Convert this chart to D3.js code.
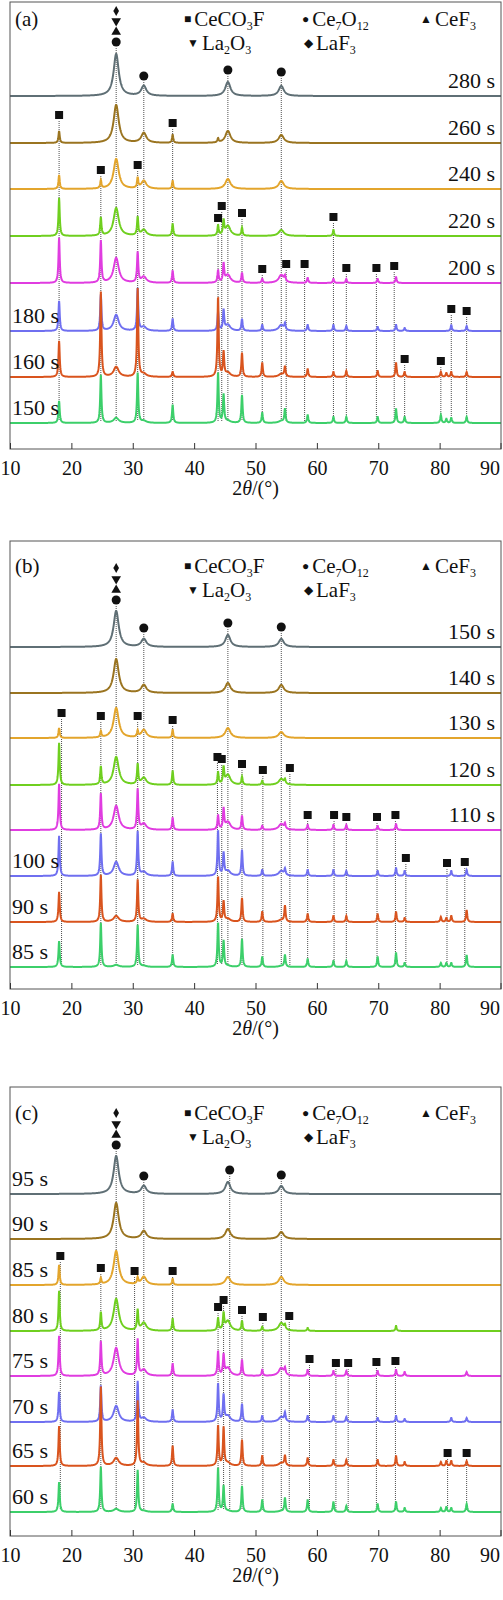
<!DOCTYPE html>
<html><head><meta charset="utf-8">
<script src="https://cdn.jsdelivr.net/npm/d3@7"></script>
<style>body{margin:0;background:#fff}svg text{font-family:"Liberation Serif","Times New Roman",serif;fill:#111}</style>
</head><body><svg id="c" width="503" height="1600"></svg>
<script>
// ---------- data ----------
const xTicks = [10,20,30,40,50,60,70,80,90];
const sharpPos = [18.0,24.8,30.8,36.5,43.9,44.8,47.8,51.1,54.8,58.5,62.7,64.8,69.9,72.9,74.3,80.2,81.1,81.9,84.4];
const oxidePos = [27.3,31.8,45.5,54.2];
const colors = ["#5f6f75","#9a7420","#e3a52c","#6fcf1f","#e03ce0","#6f6ff0","#d9541e","#3ccf6a"];

const labelsA = ["280 s","260 s","240 s","220 s","200 s","180 s","160 s","150 s"];
const labelsB = ["150 s","140 s","130 s","120 s","110 s","100 s","90 s","85 s"];
const labelsC = ["95 s","90 s","85 s","80 s","75 s","70 s","65 s","60 s"];
const labelSideA = ["r","r","r","r","r","l","l","l"];
const labelSideB = ["r","r","r","r","r","l","l","l"];
const labelSideC = ["l","l","l","l","l","l","l","l"];
const baseA = [353,306,260,213,166,118,72,26];
const baseB = [342,296,251,204,159,113,67,22];
const baseC = [342,297,251,205,160,114,70,24];

const oxideA = [[42,10,14,10],[38,10,12,8],[30,8,10,8],[28,6,10,6],[25,6,8,8],[16,4,6,6],[10,3,4,3],[5,2,2,2]];
const sharpA = [
 [0,0,0,0,0,0,0,0,0,0,0,0,0,0,0,0,0,0,0],
 [12,0,0,8,4,0,0,0,0,0,0,0,0,0,0,0,0,0,0],
 [14,8,10,8,0,0,0,0,0,0,0,0,0,0,0,0,0,0,0],
 [38,18,18,12,10,14,8,0,0,0,6,0,0,0,0,0,0,0,0],
 [45,42,30,12,12,18,10,4,5,5,4,4,4,6,0,0,0,0,0],
 [30,36,42,12,18,20,12,6,6,6,6,5,4,6,3,0,0,6,5],
 [36,85,88,5,80,24,24,14,10,8,5,6,6,14,5,5,4,5,5],
 [22,48,50,18,50,28,28,10,14,8,6,6,6,14,6,8,4,5,6]];
const oxideB = [[36,8,12,8],[34,8,10,8],[30,8,10,6],[28,7,10,6],[24,6,8,6],[14,4,5,5],[6,3,3,2],[2,1,1,1]];
const sharpB = [
 [0,0,0,0,0,0,0,0,0,0,0,0,0,0,0,0,0,0,0],
 [0,0,0,0,0,0,0,0,0,0,0,0,0,0,0,0,0,0,0],
 [10,6,6,8,0,0,0,0,0,0,0,0,0,0,0,0,0,0,0],
 [42,18,20,14,12,16,8,4,4,0,0,0,0,0,0,0,0,0,0],
 [46,36,40,12,14,20,14,4,5,5,5,5,4,6,0,0,0,0,0],
 [40,42,44,14,45,22,26,6,6,6,6,5,5,8,5,0,0,5,6],
 [30,47,42,8,45,20,24,10,16,8,6,6,8,10,4,5,4,6,12],
 [26,44,42,12,44,26,28,10,12,8,6,6,10,14,4,4,4,4,12]];
const oxideC = [[38,8,12,8],[36,8,10,7],[34,8,8,8],[32,8,10,8],[28,6,8,8],[16,4,6,5],[8,3,3,3],[3,1,1,1]];
const sharpC = [
 [0,0,0,0,0,0,0,0,0,0,0,0,0,0,0,0,0,0,0],
 [0,0,0,0,0,0,0,0,0,0,0,0,0,0,0,0,0,0,0],
 [20,6,6,6,0,0,0,0,0,0,0,0,0,0,0,0,0,0,0],
 [40,18,20,12,12,16,10,4,4,3,0,0,0,5,0,0,0,0,0],
 [40,34,36,12,24,20,16,6,6,6,5,5,5,6,4,0,0,0,4],
 [30,36,40,12,38,26,18,6,8,6,6,5,4,6,3,0,0,4,4],
 [40,79,65,20,40,38,26,10,10,8,6,6,6,10,4,4,5,5,5],
 [30,45,42,8,44,26,26,12,14,12,10,6,8,10,4,4,5,4,8]];

const legend = [["■","CeCO","3","F"],["●","Ce","7","O","12"],["▲","CeF","3"],["▼","La","2","O","3"],["◆","LaF","3"]];

const markA = [[27.3,438,"d"],[27.3,428,"v"],[27.3,417,"^"],[27.3,407,"o"],[31.8,373,"o"],[45.5,379,"o"],[54.2,377,"o"],
 [18.0,334,"s"],[36.5,326,"s"],[24.8,279,"s"],[30.8,284,"s"],[43.9,231,"s"],[44.5,243,"s"],[47.8,236,"s"],[62.7,232,"s"],
 [51.1,180,"s"],[55.0,185,"s"],[58.0,185,"s"],[64.8,181,"s"],[69.7,181,"s"],[72.6,183,"s"],[81.9,140,"s"],[84.4,138,"s"],[74.3,90,"s"],[80.2,88,"s"]];
const markB = [[27.3,421,"d"],[27.3,410,"v"],[27.3,399,"^"],[27.3,389,"o"],[31.8,361,"o"],[45.5,366,"o"],[54.2,362,"o"],
 [18.4,276,"s"],[24.8,273,"s"],[30.8,273,"s"],[36.5,269,"s"],[43.8,232,"s"],[44.5,230,"s"],[47.8,225,"s"],[51.2,219,"s"],[55.6,221,"s"],
 [58.5,174,"s"],[62.8,174,"s"],[64.8,172,"s"],[69.8,172,"s"],[72.8,174,"s"],[74.5,131,"s"],[81.2,126,"s"],[84.1,127,"s"]];
const markC = [[27.3,423,"d"],[27.3,412,"v"],[27.3,401,"^"],[27.3,391,"o"],[31.8,360,"o"],[45.8,366,"o"],[54.2,361,"o"],
 [18.2,280,"s"],[24.8,268,"s"],[30.3,265,"s"],[36.5,265,"s"],[43.9,229,"s"],[44.8,236,"s"],[47.8,226,"s"],[51.2,219,"s"],[55.5,220,"s"],
 [58.8,177,"s"],[63.1,173,"s"],[65.1,173,"s"],[69.7,174,"s"],[72.8,175,"s"],[81.3,83,"s"],[84.4,83,"s"]];

const panels = [
 {tag:"(a)",top:2,bottom:449,labels:labelsA,side:labelSideA,base:baseA,ox:oxideA,sh:sharpA,marks:markA,legY:24},
 {tag:"(b)",top:541,bottom:989,labels:labelsB,side:labelSideB,base:baseB,ox:oxideB,sh:sharpB,marks:markB,legY:32},
 {tag:"(c)",top:1087,bottom:1536,labels:labelsC,side:labelSideC,base:baseC,ox:oxideC,sh:sharpC,marks:markC,legY:33}];

// ---------- draw ----------
const svg = d3.select("#c");
const L = 10, R = 501;
const x = d3.scaleLinear().domain([10,90]).range([L,R]);
const grid = d3.range(10,90.001,0.04);
const sym = {s:d3.symbolSquare,o:d3.symbolCircle,"^":d3.symbolTriangle,v:d3.symbolTriangle,d:d3.symbolDiamond};
const symSize = {s:64,o:64,"^":40,v:40,d:28};

panels.forEach(p=>{
  const y = d3.scaleLinear().domain([0,p.bottom-p.top]).range([p.bottom,p.top]);
  const g = svg.append("g");
  const clipId = "clip"+p.tag.replace(/\W/g,"");
  svg.append("clipPath").attr("id",clipId).append("rect").attr("x",L).attr("y",p.top).attr("width",R-L).attr("height",p.bottom-p.top);
  const lowest = p.base[p.base.length-1];
  p.marks.filter(m=>m[2]==="s"||m[2]==="o").forEach(m=>{
    g.append("line").attr("x1",x(m[0])).attr("x2",x(m[0])).attr("y1",y(m[1]-6)).attr("y2",y(lowest+2))
     .attr("stroke","#222").attr("stroke-width",0.8).attr("stroke-dasharray","1,1");
  });
  const line = d3.line().x(d=>x(d[0])).y(d=>y(d[1]));
  const cg = g.append("g").attr("clip-path",`url(#${clipId})`);
  p.base.forEach((b,i)=>{
    const pts = grid.map(t=>{
      let v=b;
      oxidePos.forEach((c,k)=>{const w=0.5; v+=p.ox[i][k]/(1+((t-c)/w)**2);});
      sharpPos.forEach((c,k)=>{const w=0.12; v+=p.sh[i][k]/(1+((t-c)/w)**2);});
      return [t,v];
    });
    cg.append("path").attr("d",line(pts)).attr("fill","none").attr("stroke",colors[i]).attr("stroke-width",2);
  });
  p.marks.forEach(m=>{
    g.append("path").attr("d",d3.symbol().type(sym[m[2]]).size(symSize[m[2]])())
     .attr("transform",`translate(${x(m[0])},${y(m[1])})${m[2]==="v"?" rotate(180)":""}`).attr("fill","#111");
  });
  p.labels.forEach((t,i)=>{
    const right = p.side[i]==="r";
    g.append("text").attr("x",right?495:12).attr("y",y(p.base[i]+8)).attr("text-anchor",right?"end":"start")
     .attr("font-size",22).text(t);
  });
  g.append("rect").attr("x",L).attr("y",p.top).attr("width",R-L).attr("height",p.bottom-p.top)
   .attr("fill","none").attr("stroke","#555").attr("stroke-width",1);
  const ax = g.append("g").attr("transform",`translate(0,${p.bottom})`)
    .call(d3.axisBottom(x).tickValues(xTicks).tickSize(-6).tickPadding(12).tickFormat(d3.format("d")));
  ax.select(".domain").remove();
  ax.selectAll("line").attr("stroke","#333");
  ax.selectAll("text").attr("font-size",20).attr("font-family","Liberation Serif").attr("fill","#111");
  ax.selectAll("text").filter(d=>d===90).attr("text-anchor","end").attr("dx",11);
  ax.selectAll("text").filter(d=>d===10).attr("text-anchor","start").attr("dx",-10);
  ax.selectAll(".tick").filter(d=>d===90).attr("transform",`translate(${R-12},0)`).select("line").attr("transform","translate(12,0)");
  const tt = g.append("text").attr("x",(L+R)/2).attr("y",p.bottom+46).attr("text-anchor","middle").attr("font-size",20);
  tt.append("tspan").text("2");
  tt.append("tspan").attr("font-style","italic").text("θ");
  tt.append("tspan").text("/(°)");
  g.append("text").attr("x",15).attr("y",p.top+p.legY).attr("font-size",21).text(p.tag);
  const pos = [[184,p.legY],[302,p.legY],[420,p.legY],[187,p.legY+24],[304,p.legY+24]];
  legend.forEach((it,k)=>{
    const t = g.append("text").attr("x",pos[k][0]).attr("y",p.top+pos[k][1]).attr("font-size",21);
    t.append("tspan").attr("font-size",12).attr("dy",-3).text(it[0]+" ");
    t.append("tspan").attr("dy",3).text(it[1]);
    for(let j=2;j<it.length;j++){
      const sub = j%2===0;
      t.append("tspan").attr("font-size",sub?12:21).attr("dy",sub?4:-4).text(it[j]);
    }
  });
});
</script></body></html>
